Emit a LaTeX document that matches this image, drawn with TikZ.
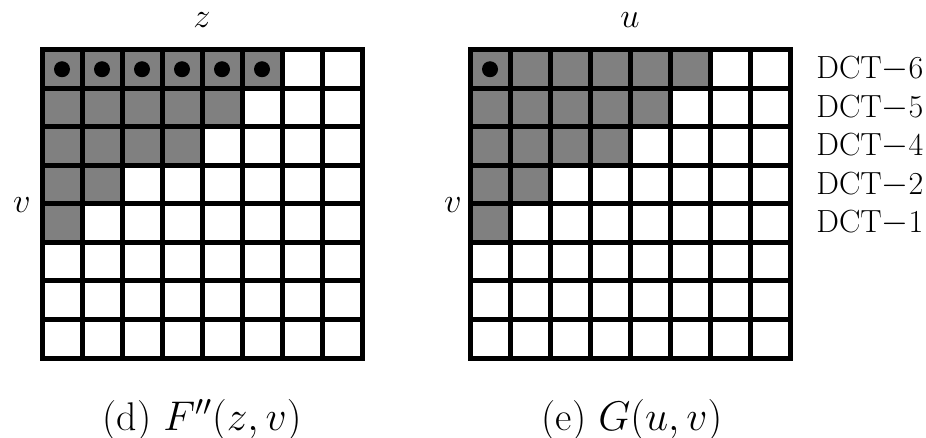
\documentclass[tikz,border=0pt]{standalone}
\usepackage{tikz}
\usetikzlibrary{positioning,calc}

\begin{document}
\begin{tikzpicture}[
  x=0.5pt, y=-0.5pt,
  cellgray/.style={fill=black!50},
  gridline/.style={line width=2.5pt, line cap=rect},
  coeffdot/.style={fill=black},
  axislabel/.style={font=\fontsize{17}{20}\selectfont},
  dctlabel/.style={font=\fontsize{16}{19}\selectfont, anchor=west, inner sep=0pt},
  caption/.style={font=\fontsize{20}{24}\selectfont}
]
\useasboundingbox (0,0) rectangle (926,438);

% the two 8x8 blocks: left F''(z,v) with six dots, right G(u,v) with one
\foreach \gx/\nd in {42/6, 470/1} {
  \begin{scope}[shift={(\gx,50)}]
    % shaded coefficients
    \foreach \r/\n in {0/6, 1/5, 2/4, 3/2, 4/1} {
      \foreach \c in {1,...,\n}
        \fill[cellgray] ({(\c-1)*40}, {\r*38.5}) rectangle ++(40,38.5);
    }
    % dots in first row
    \foreach \c in {1,...,\nd}
      \fill[coeffdot] ({(\c-0.5)*40}, 19.25) circle (8);
    % grid
    \foreach \i in {0,...,8} {
      \draw[gridline] ({\i*40}, 0) -- ({\i*40}, 308);
      \draw[gridline] (0, {\i*38.5}) -- (320, {\i*38.5});
    }
  \end{scope}
}

% axis labels
\node[axislabel] (zlabel) at (202,20) {$z$};
\node[axislabel] (ulabel) at (630,20) {$u$};
\node[axislabel] (vleft) at (22,205) {$v$};
\node[axislabel] (vright) at (453,205) {$v$};

% DCT labels
\node[dctlabel] (dct6) at (816,69) {DCT$-$6};
\node[dctlabel] (dct5) at (816,108) {DCT$-$5};
\node[dctlabel] (dct4) at (816,146) {DCT$-$4};
\node[dctlabel] (dct2) at (816,185) {DCT$-$2};
\node[dctlabel] (dct1) at (816,223) {DCT$-$1};

% captions
\node[caption] (capd) at (202,420) {(d) $F''(z,v)$};
\node[caption] (cape) at (632,420) {(e) $G(u,v)$};
\end{tikzpicture}
\end{document}
